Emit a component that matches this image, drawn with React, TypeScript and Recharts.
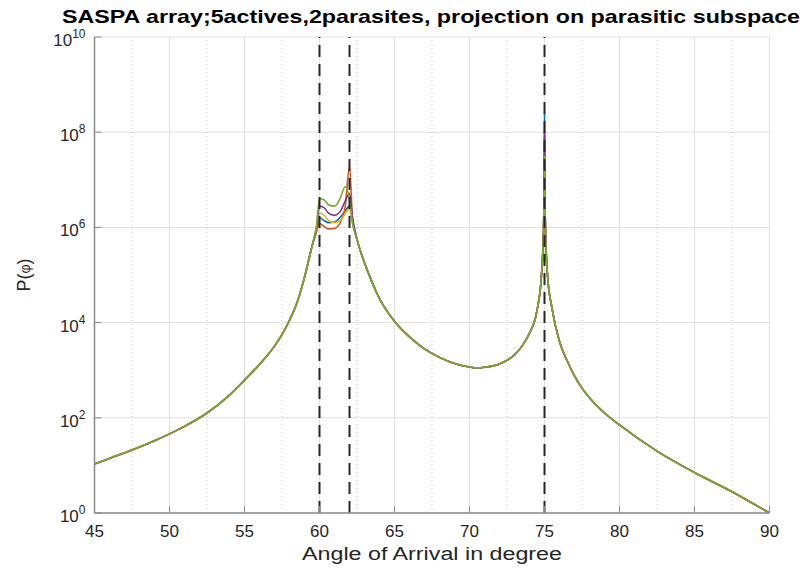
import { CartesianGrid, Line, LineChart, ReferenceLine, XAxis, YAxis } from "recharts"

// shared part of the five curves (they overlap away from the peaks)
const SHARED_ANGLES = [
  45, 46, 47.5, 49, 50, 51, 52.5, 54, 55, 56, 57, 57.5, 58, 58.5, 59, 59.5,
  62.5, 63, 63.5, 64, 65, 66, 67, 68, 69, 70, 70.5, 71, 72, 73, 73.5, 74,
  74.5, 74.8, 74.9, 74.95, 74.98, 75.02, 75.05, 75.1, 75.2, 75.5, 76, 76.5,
  77, 77.5, 78, 79, 80, 82.5, 85, 87.5, 90,
]
const SHARED_VALUES = [
  10.7, 14, 21, 33, 46, 66, 126, 300, 620, 1.32e3, 3.2e3, 5.6e3, 1.12e4, 2.6e4, 8.9e4, 4.0e5,
  5.6e5, 1.8e5, 7.1e4, 3.2e4, 1.07e4, 5.0e3, 2.8e3, 1.86e3, 1.38e3, 1.17e3, 1.12e3, 1.15e3, 1.35e3, 2.1e3, 3.2e3, 6.0e3,
  1.8e4, 1.0e5, 4.0e5, 1.6e6, 1.0e7, 1.0e7, 1.6e6, 4.0e5, 1.0e5, 2.0e4, 4.0e3, 1.6e3,
  760, 420, 263, 126, 71, 20, 7.1, 2.8, 1.0,
]

// where the curves split apart
const PEAK_ANGLES = [59.8, 60, 60.3, 60.6, 61, 61.4, 61.7, 62, 62.2, 75]
const CURVE_1 = [8.9e5, 1.6e6, 1.4e6, 1.26e6, 1.3e6, 1.66e6, 2.2e6, 2.8e6, 1.26e6, 2.5e8]
const CURVE_2 = [7.9e5, 1.2e6, 1.05e6, 9.3e5, 9.5e5, 1.3e6, 2.5e6, 1.9e7, 1.6e6, 8e7]
const CURVE_3 = [8.9e5, 2.0e6, 1.8e6, 1.4e6, 1.26e6, 1.4e6, 1.9e6, 2.45e6, 1.26e6, 5e7]
const CURVE_4 = [1.0e6, 2.8e6, 2.6e6, 2.0e6, 1.8e6, 2.2e6, 3.5e6, 5.2e6, 1.6e6, 1e8]
const CURVE_5 = [1.1e6, 4.0e6, 3.8e6, 3.0e6, 2.8e6, 4.2e6, 7.1e6, 4.0e6, 1.26e6, 3.2e7]

const CURVES = [CURVE_1, CURVE_2, CURVE_3, CURVE_4, CURVE_5]
const COLORS = ["#0072BD", "#D95319", "#EDB120", "#7E2F8E", "#77AC30"]

const X_TICKS = [45, 50, 55, 60, 65, 70, 75, 80, 85, 90]
const X_MINOR = [47.5, 52.5, 57.5, 62.5, 67.5, 72.5, 77.5, 82.5, 87.5]
const Y_TICKS = [1, 1e2, 1e4, 1e6, 1e8, 1e10]
const SIGNAL_ANGLES = [60, 62, 75]

const FONT = "'Liberation Sans', Arial, Helvetica, sans-serif"
const TEXT = "#262626"
const AXIS = "#8a8a8a"

const rows: Array<Record<string, number>> = []
SHARED_ANGLES.forEach((angle, i) => {
  const row: Record<string, number> = { angle }
  CURVES.forEach((_, k) => (row[`c${k}`] = SHARED_VALUES[i]))
  rows.push(row)
})
PEAK_ANGLES.forEach((angle, i) => {
  const row: Record<string, number> = { angle }
  CURVES.forEach((curve, k) => (row[`c${k}`] = curve[i]))
  rows.push(row)
})
rows.sort((a, b) => a.angle - b.angle)

function BottomTick({ x, y, payload }: any) {
  return (
    <g>
      <line x1={x} x2={x} y1={y} y2={y - 7} stroke={AXIS} />
      <text x={x} y={y + 24} textAnchor="middle" fontSize={17} fontFamily={FONT} fill={TEXT}>
        {payload.value}
      </text>
    </g>
  )
}

function TopTick({ x, y }: any) {
  return <line x1={x} x2={x} y1={y} y2={y + 7} stroke={AXIS} />
}

function LeftTick({ x, y, payload }: any) {
  const exp = Math.round(Math.log10(payload.value))
  return (
    <g>
      <line x1={x} x2={x + 7} y1={y} y2={y} stroke={AXIS} />
      <text x={x - 9} y={y + 9} textAnchor="end" fontSize={17} fontFamily={FONT} fill={TEXT}>
        10
        <tspan dy={-8} fontSize={12}>
          {exp}
        </tspan>
      </text>
    </g>
  )
}

function RightTick({ x, y }: any) {
  return <line x1={x} x2={x - 7} y1={y} y2={y} stroke={AXIS} />
}

export default function App() {
  return (
    <div style={{ position: "absolute", left: 0, top: 0, width: 808, height: 572, background: "#fff" }}>
      <LineChart
        width={808}
        height={572}
        data={rows}
        margin={{ top: 37, right: 38.5, bottom: 29, left: 34.5 }}
      >
        <CartesianGrid stroke="#e0e0e0" strokeWidth={1} />
        {X_MINOR.map((a) => (
          <ReferenceLine key={a} x={a} stroke="#c8c8c8" strokeDasharray="1 3" />
        ))}
        <XAxis
          dataKey="angle"
          type="number"
          domain={[45, 90]}
          ticks={X_TICKS}
          allowDataOverflow
          height={30}
          stroke={AXIS}
          strokeWidth={1.5}
          tickLine={false}
          tickSize={0}
          tickMargin={0}
          tick={<BottomTick />}
        />
        <XAxis
          xAxisId="top"
          orientation="top"
          type="number"
          domain={[45, 90]}
          ticks={X_TICKS}
          height={0}
          stroke={AXIS}
          strokeWidth={1.5}
          tickLine={false}
          tickSize={0}
          tickMargin={0}
          tick={<TopTick />}
        />
        <YAxis
          scale="log"
          type="number"
          domain={[1, 1e10]}
          ticks={Y_TICKS}
          allowDataOverflow
          width={60}
          stroke={AXIS}
          strokeWidth={1.5}
          tickLine={false}
          tickSize={0}
          tickMargin={0}
          tick={<LeftTick />}
        />
        <YAxis
          yAxisId="right"
          orientation="right"
          scale="log"
          type="number"
          domain={[1, 1e10]}
          ticks={Y_TICKS}
          width={0}
          stroke={AXIS}
          strokeWidth={1.5}
          tickLine={false}
          tickSize={0}
          tickMargin={0}
          tick={<RightTick />}
        />
        {CURVES.map((_, k) => (
          <Line
            key={k}
            dataKey={`c${k}`}
            stroke={COLORS[k]}
            strokeWidth={1.6}
            dot={false}
            type="monotone"
            isAnimationActive={false}
          />
        ))}
        {SIGNAL_ANGLES.map((a) => (
          <ReferenceLine key={`s${a}`} x={a} stroke="#262626" strokeWidth={2} strokeDasharray="12 7" />
        ))}
      </LineChart>
      <svg
        width={808}
        height={572}
        style={{ position: "absolute", left: 0, top: 0, pointerEvents: "none" }}
      >
        <text
          x={431}
          y={23}
          textAnchor="middle"
          fontSize={19}
          fontWeight="bold"
          fontFamily={FONT}
          fill="#000"
          textLength={738}
          lengthAdjust="spacingAndGlyphs"
        >
          SASPA array;5actives,2parasites, projection on parasitic subspace
        </text>
        <text
          x={432}
          y={560}
          textAnchor="middle"
          fontSize={18}
          fontFamily={FONT}
          fill={TEXT}
          textLength={260}
          lengthAdjust="spacingAndGlyphs"
        >
          Angle of Arrival in degree
        </text>
        <text
          x={0}
          y={0}
          transform="translate(30 275) rotate(-90)"
          textAnchor="middle"
          fontSize={18}
          fontFamily={FONT}
          fill={TEXT}
        >
          P(<tspan fontSize={14}>φ</tspan>)
        </text>
      </svg>
    </div>
  )
}
